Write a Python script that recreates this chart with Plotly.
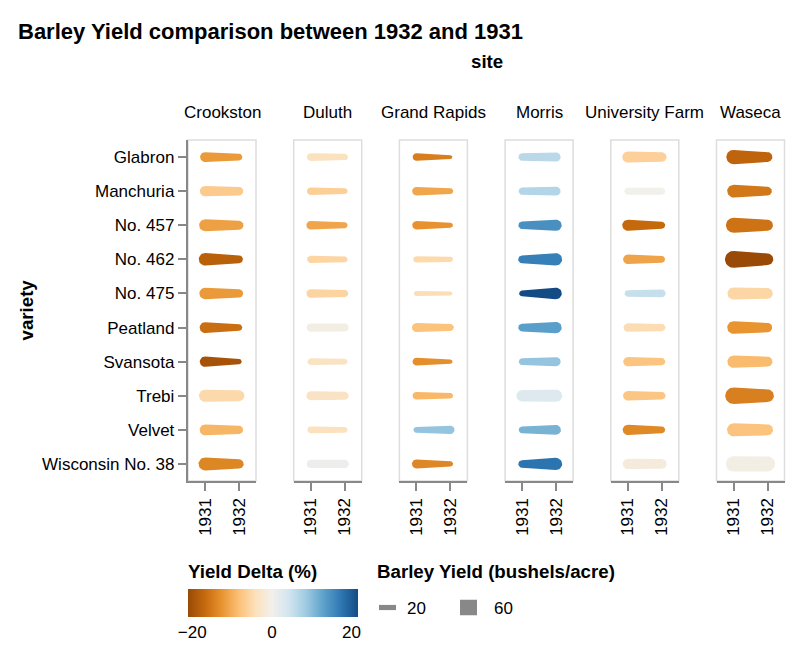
import math
import numpy as np
import plotly.graph_objects as go

# ---------------- data ----------------
sites = ["Crookston", "Duluth", "Grand Rapids", "Morris", "University Farm", "Waseca"]
varieties = ["Glabron", "Manchuria", "No. 457", "No. 462", "No. 475", "Peatland",
             "Svansota", "Trebi", "Velvet", "Wisconsin No. 38"]
years = ["1931", "1932"]

crookston_1931 = [38.13, 39.93, 45.67, 48.57, 44.10, 41.60, 40.47, 46.93, 41.33, 49.87]
crookston_1932 = [26.17, 32.97, 34.33, 30.53, 32.13, 25.23, 20.63, 41.83, 32.07, 35.90]
duluth_1931 = [29.67, 28.97, 33.60, 28.10, 33.07, 32.00, 25.70, 33.93, 26.30, 31.60]
duluth_1932 = [25.87, 22.57, 22.70, 22.50, 27.37, 31.37, 22.23, 30.60, 22.47, 32.23]
grand_rapids_1931 = [29.13, 32.97, 32.17, 24.93, 19.70, 34.70, 29.67, 29.77, 23.03, 34.47]
grand_rapids_1932 = [14.43, 22.13, 19.47, 19.90, 15.23, 26.77, 16.63, 20.63, 32.23, 20.67]
morris_1931 = [28.77, 27.43, 28.70, 30.37, 22.60, 29.87, 25.77, 43.77, 26.13, 29.47]
morris_1932 = [35.13, 34.37, 43.53, 47.00, 44.23, 43.20, 35.03, 46.63, 37.30, 47.17]
university_farm_1931 = [43.07, 27.00, 43.27, 36.60, 24.67, 32.77, 35.13, 36.57, 39.90, 39.30]
university_farm_1932 = [36.80, 26.90, 26.43, 25.57, 30.00, 28.07, 27.43, 29.07, 26.30, 38.00]
waseca_1931 = [55.20, 48.87, 58.10, 65.77, 46.77, 48.57, 47.33, 63.83, 50.23, 58.80]
waseca_1932 = [37.73, 33.47, 42.20, 44.70, 41.27, 36.03, 38.50, 49.23, 42.37, 58.17]

size_legend_values = [20, 60]
color_legend_ticks = [-20, 0, 20]

y1931 = [crookston_1931, duluth_1931, grand_rapids_1931, morris_1931,
         university_farm_1931, waseca_1931]
y1932 = [crookston_1932, duluth_1932, grand_rapids_1932, morris_1932,
         university_farm_1932, waseca_1932]

# ---------------- style / layout constants ----------------
W, H = 802, 652
FONT = "Liberation Sans, Arial, Helvetica, sans-serif"
PANEL_LEFT0 = 188.0
PANEL_PITCH = 105.7
PANEL_W = 68.0
PANEL_TOP = 140.0
PANEL_BOTTOM = 481.0
MAX_WIDTH_PX = 17.0
AXIS_GRAY = "#888888"
FRAME_GRAY = "#dddddd"

def X(px):
    return px / W

def Y(py):
    return 1 - py / H

# Vega "blueorange" scheme, reversed (negative = brown, positive = blue)
blueorange = ["#134b85", "#2f78b3", "#5da2cb", "#9dcae1", "#d2e5ef", "#f2f0eb",
              "#fce0ba", "#fbbf74", "#e8932f", "#c5690d", "#994a07"]
scheme = blueorange[::-1]

def hex2rgb(h):
    h = h.lstrip("#")
    return [int(h[i:i + 2], 16) for i in (0, 2, 4)]

scheme_rgb = [hex2rgb(c) for c in scheme]

deltas = [[b - a for a, b in zip(y1931[s], y1932[s])] for s in range(len(sites))]
all_d = [d for row in deltas for d in row]
dmin, dmax = min(all_d), max(all_d)

def delta_to_t(d):
    if d < 0:
        return 0.5 * (d - dmin) / (0 - dmin)
    return 0.5 + 0.5 * d / dmax

def color_at(t):
    t = min(max(t, 0.0), 1.0)
    n = len(scheme_rgb) - 1
    k = min(int(t * n), n - 1)
    f = t * n - k
    c = [scheme_rgb[k][j] + (scheme_rgb[k + 1][j] - scheme_rgb[k][j]) * f for j in range(3)]
    return "rgb(%d,%d,%d)" % tuple(round(v) for v in c)

all_y = [v for row in y1931 + y1932 for v in row]
ymax = max(all_y)

def size_px(v):
    return v / ymax * MAX_WIDTH_PX

# pixel per data unit
PX_X = PANEL_W / 2.0           # x range [-0.5, 1.5]
PX_Y = (PANEL_BOTTOM - PANEL_TOP) / len(varieties)

def trail_polygon(x0, x1, yc, w0, w1, n=18):
    r0, r1 = w0 / 2.0, w1 / 2.0
    d = (x1 - x0) * PX_X
    nx = (r0 - r1) / d
    ny = math.sqrt(max(0.0, 1 - nx * nx))
    tu = math.atan2(ny, nx)
    xs, ys = [], []
    for th in np.linspace(tu, 2 * math.pi - tu, n):
        xs.append(r0 * math.cos(th)); ys.append(r0 * math.sin(th))
    for th in np.linspace(-tu, tu, n):
        xs.append(d + r1 * math.cos(th)); ys.append(r1 * math.sin(th))
    xs.append(xs[0]); ys.append(ys[0])
    return [x0 + px / PX_X for px in xs], [yc - py / PX_Y for py in ys]

fig = go.Figure()

for si, site in enumerate(sites):
    ax = "" if si == 0 else str(si + 1)
    for vi, var in enumerate(varieties):
        a, b = y1931[si][vi], y1932[si][vi]
        col = color_at(delta_to_t(deltas[si][vi]))
        xs, ys = trail_polygon(0, 1, vi, size_px(a), size_px(b))
        fig.add_trace(go.Scatter(
            x=xs, y=ys, mode="lines", fill="toself", fillcolor=col,
            line=dict(width=0, color=col), hoverinfo="skip", showlegend=False,
            xaxis="x" + ax, yaxis="y" + ax))

# colour legend via colorbar
cs = []
nst = len(scheme) - 1
for k, c in enumerate(scheme):
    t = k / nst
    v = dmin * (1 - 2 * t) if t <= 0.5 else (2 * t - 1) * dmax
    cs.append([(v - dmin) / (dmax - dmin), c])
cs[0][0] = 0.0
cs[-1][0] = 1.0

fig.add_trace(go.Scatter(
    x=[None] * len(all_d), y=[None] * len(all_d), mode="markers",
    marker=dict(color=all_d, colorscale=cs, cmin=dmin, cmax=dmax, showscale=True,
                colorbar=dict(orientation="h", x=X(PANEL_LEFT0), xanchor="left",
                              y=Y(589), yanchor="top", len=170, lenmode="pixels",
                              thickness=28, thicknessmode="pixels", xpad=0, ypad=0,
                              outlinewidth=0, tickvals=color_legend_ticks, ticks="",
                              tickfont=dict(size=17, color="black", family=FONT),
                              title=dict(text=""))),
    hoverinfo="skip", showlegend=False))

layout = dict(
    width=W, height=H, margin=dict(l=0, r=0, t=0, b=0, pad=0),
    paper_bgcolor="white", plot_bgcolor="white",
    font=dict(family=FONT, size=17, color="black"),
    showlegend=False,
)

shapes = []
annotations = []
for si, site in enumerate(sites):
    ax = "" if si == 0 else str(si + 1)
    left = PANEL_LEFT0 + si * PANEL_PITCH
    first = si == 0
    layout["xaxis" + ax] = dict(
        domain=[X(left), X(left + PANEL_W)], range=[-0.5, 1.5],
        tickmode="array", tickvals=[0, 1], ticktext=years, tickangle=-90,
        ticks="outside", ticklen=8.5, tickwidth=1.5, tickcolor=AXIS_GRAY,
        showline=True, linecolor=AXIS_GRAY, linewidth=1.5,
        showgrid=False, zeroline=False, anchor="y" + ax, fixedrange=True,
        tickfont=dict(size=17, color="black", family=FONT))
    layout["yaxis" + ax] = dict(
        domain=[Y(PANEL_BOTTOM), Y(PANEL_TOP)], range=[len(varieties) - 0.5, -0.5],
        tickmode="array", tickvals=list(range(len(varieties))),
        ticktext=varieties if first else [""] * len(varieties),
        showticklabels=first, ticks="outside" if first else "",
        ticklen=8.5, tickwidth=1.5, tickcolor=AXIS_GRAY,
        showline=first, linecolor=AXIS_GRAY, linewidth=1.5,
        showgrid=False, zeroline=False, anchor="x" + ax, fixedrange=True,
        tickfont=dict(size=17, color="black", family=FONT))
    shapes.append(dict(type="rect", xref="x" + ax + " domain", yref="y" + ax + " domain",
                       x0=0, x1=1, y0=0, y1=1, line=dict(color=FRAME_GRAY, width=1.5),
                       layer="below"))
    annotations.append(dict(text=site, x=X(left + PANEL_W / 2), y=Y(112),
                            xref="paper", yref="paper", xanchor="center", yanchor="middle",
                            showarrow=False, borderpad=0, font=dict(size=17)))

annotations += [
    dict(text="Barley Yield comparison between 1932 and 1931", x=X(17), y=Y(31.5),
         xref="paper", yref="paper", xanchor="left", yanchor="middle", showarrow=False,
         borderpad=0, font=dict(size=22, weight="bold")),
    dict(text="site", x=X(486.5), y=Y(61), xref="paper", yref="paper",
         xanchor="center", yanchor="middle", showarrow=False, borderpad=0,
         font=dict(size=18.7, weight="bold")),
    dict(text="variety", x=X(26), y=Y(310.5), xref="paper", yref="paper",
         xanchor="center", yanchor="middle", showarrow=False, borderpad=0, textangle=-90,
         font=dict(size=18.7, weight="bold")),
    dict(text="Yield Delta (%)", x=X(187), y=Y(571.5), xref="paper", yref="paper",
         xanchor="left", yanchor="middle", showarrow=False, borderpad=0,
         font=dict(size=18.7, weight="bold")),
    dict(text="Barley Yield (bushels/acre)", x=X(376), y=Y(571.5), xref="paper", yref="paper",
         xanchor="left", yanchor="middle", showarrow=False, borderpad=0,
         font=dict(size=18.7, weight="bold")),
]

# size legend
sym_centers = [387.5, 468.5]
label_lefts = [406, 492.5]
for v, cx, lx in zip(size_legend_values, sym_centers, label_lefts):
    h = size_px(v)
    shapes.append(dict(type="rect", xref="paper", yref="paper",
                       x0=X(cx - 8.5), x1=X(cx + 8.5), y0=Y(607.5 + h / 2), y1=Y(607.5 - h / 2),
                       line=dict(width=0), fillcolor=AXIS_GRAY))
    annotations.append(dict(text=str(v), x=X(lx), y=Y(608), xref="paper", yref="paper",
                            xanchor="left", yanchor="middle", showarrow=False, borderpad=0,
                            font=dict(size=17)))

layout["shapes"] = shapes
layout["annotations"] = annotations
fig.update_layout(**layout)

fig.write_html("out.html")
